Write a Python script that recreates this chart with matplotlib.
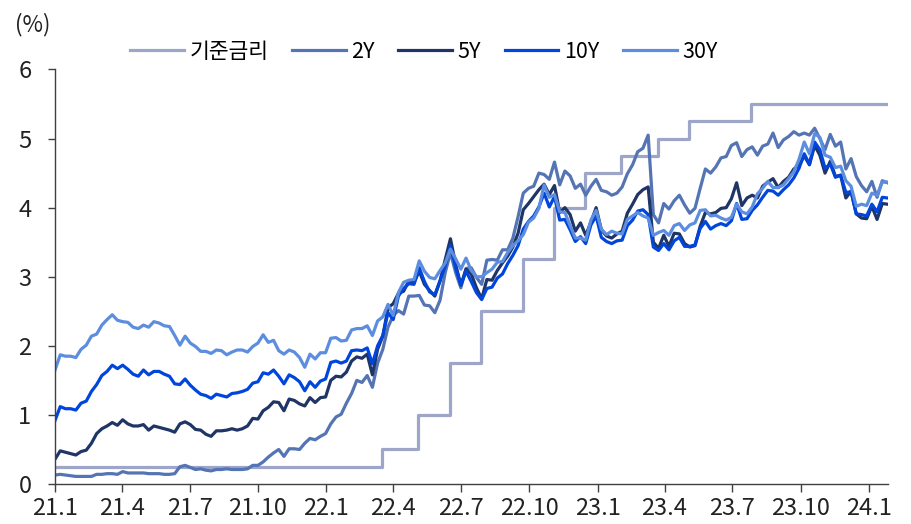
import numpy as np
import pandas as pd
import matplotlib
matplotlib.use('Agg')
import matplotlib.pyplot as plt

plt.rcParams['font.family'] = ['Noto Sans CJK KR', 'DejaVu Sans']

# weekly (Friday) observations, 2021-01-01 ~ 2024-01-26
dates = pd.date_range('2021-01-01', '2024-01-26', freq='W-FRI')

y2 = [
    # 2021
    0.13, 0.14, 0.13, 0.12, 0.11, 0.11, 0.11, 0.11, 0.14, 0.14, 0.15, 0.15, 0.14,
    0.18, 0.16, 0.16, 0.16, 0.16, 0.15, 0.15, 0.15, 0.14, 0.14, 0.15, 0.25, 0.27,
    0.24, 0.21, 0.22, 0.20, 0.19, 0.21, 0.21, 0.22, 0.21, 0.21, 0.21, 0.22, 0.27,
    0.27, 0.32, 0.39, 0.45, 0.50, 0.40, 0.51, 0.51, 0.50, 0.59, 0.66, 0.64, 0.69, 0.73,
    # 2022
    0.87, 0.97, 1.01, 1.17, 1.31, 1.50, 1.47, 1.57, 1.40, 1.75, 1.95, 2.27,
    2.44, 2.51, 2.46, 2.72, 2.72, 2.73, 2.59, 2.58, 2.48, 2.66, 3.06, 3.35, 3.06,
    2.84, 3.12, 3.13, 2.99, 2.89, 3.24, 3.25, 3.24, 3.39, 3.39, 3.56, 3.87, 4.21, 4.28,
    4.31, 4.50, 4.48, 4.41, 4.66, 4.33, 4.53, 4.46, 4.28, 4.34, 4.18, 4.31, 4.41,
    # 2023
    4.25, 4.23, 4.18, 4.21, 4.30, 4.49, 4.62, 4.81, 4.86, 5.05, 3.90, 3.78, 4.06,
    3.98, 4.10, 4.18, 4.04, 3.92, 3.99, 4.28, 4.56, 4.50, 4.59, 4.72, 4.74, 4.90,
    4.94, 4.74, 4.84, 4.88, 4.76, 4.89, 4.92, 5.08, 4.87, 4.98, 5.03, 5.10, 5.05,
    5.08, 5.05, 5.15, 5.00, 4.84, 5.06, 4.89, 4.95, 4.56, 4.71, 4.45, 4.32, 4.23,
    # 2024
    4.38, 4.15, 4.39, 4.36,
]

y5 = [
    0.36, 0.48, 0.46, 0.44, 0.42, 0.47, 0.49, 0.59, 0.73, 0.80, 0.84, 0.89, 0.85,
    0.93, 0.87, 0.84, 0.84, 0.86, 0.78, 0.84, 0.82, 0.80, 0.78, 0.75, 0.87, 0.90,
    0.86, 0.79, 0.78, 0.72, 0.69, 0.77, 0.77, 0.78, 0.80, 0.78, 0.80, 0.84, 0.95,
    0.94, 1.06, 1.11, 1.19, 1.18, 1.06, 1.23, 1.21, 1.16, 1.13, 1.25, 1.18, 1.25, 1.26,
    1.50, 1.56, 1.55, 1.62, 1.78, 1.84, 1.82, 1.88, 1.58, 1.95, 2.14, 2.55,
    2.61, 2.76, 2.79, 2.94, 2.92, 3.08, 2.89, 2.80, 2.72, 2.94, 3.25, 3.55, 3.18,
    2.88, 3.11, 3.04, 2.84, 2.68, 2.96, 2.95, 3.09, 3.20, 3.30, 3.43, 3.63, 3.97, 4.06,
    4.16, 4.26, 4.34, 4.19, 4.32, 3.93, 4.00, 3.90, 3.66, 3.78, 3.60, 3.79, 4.00,
    3.68, 3.59, 3.56, 3.62, 3.66, 3.92, 4.05, 4.19, 4.26, 4.30, 3.50, 3.41, 3.60,
    3.44, 3.63, 3.62, 3.48, 3.43, 3.45, 3.73, 3.93, 3.91, 3.93, 3.99, 4.00, 4.13,
    4.36, 4.03, 4.14, 4.18, 4.14, 4.31, 4.37, 4.42, 4.29, 4.38, 4.44, 4.56, 4.61,
    4.75, 4.62, 4.90, 4.76, 4.50, 4.67, 4.45, 4.47, 4.14, 4.24, 3.91, 3.85, 3.84,
    4.02, 3.83, 4.06, 4.05,
]

y10 = [
    0.92, 1.12, 1.09, 1.09, 1.07, 1.17, 1.20, 1.34, 1.44, 1.57, 1.63, 1.72, 1.67,
    1.72, 1.66, 1.59, 1.56, 1.65, 1.58, 1.63, 1.63, 1.59, 1.56, 1.45, 1.44, 1.52,
    1.43, 1.36, 1.30, 1.28, 1.24, 1.30, 1.28, 1.26, 1.31, 1.32, 1.34, 1.37, 1.46,
    1.48, 1.61, 1.59, 1.65, 1.56, 1.45, 1.58, 1.54, 1.48, 1.35, 1.48, 1.40, 1.49, 1.52,
    1.76, 1.78, 1.75, 1.78, 1.93, 1.94, 1.93, 1.97, 1.74, 2.00, 2.15, 2.48,
    2.38, 2.72, 2.83, 2.90, 2.89, 3.13, 2.93, 2.78, 2.74, 2.94, 3.16, 3.45, 3.13,
    2.88, 3.08, 2.93, 2.77, 2.67, 2.83, 2.85, 2.98, 3.04, 3.19, 3.31, 3.45, 3.69, 3.80,
    3.88, 4.01, 4.21, 4.01, 4.16, 3.82, 3.83, 3.68, 3.51, 3.58, 3.48, 3.75, 3.88,
    3.57, 3.51, 3.48, 3.52, 3.53, 3.74, 3.82, 3.95, 3.97, 3.90, 3.43, 3.38, 3.48,
    3.39, 3.52, 3.57, 3.44, 3.44, 3.46, 3.70, 3.80, 3.69, 3.74, 3.77, 3.74, 3.81,
    4.06, 3.83, 3.84, 3.96, 4.04, 4.15, 4.25, 4.24, 4.18, 4.26, 4.33, 4.43, 4.57,
    4.78, 4.63, 4.95, 4.84, 4.57, 4.63, 4.44, 4.47, 4.22, 4.23, 3.91, 3.90, 3.88,
    4.05, 3.94, 4.15, 4.14,
]

y30 = [
    1.65, 1.87, 1.85, 1.85, 1.83, 1.95, 2.01, 2.14, 2.17, 2.30, 2.38, 2.45, 2.37,
    2.35, 2.34, 2.27, 2.25, 2.30, 2.27, 2.35, 2.33, 2.29, 2.28, 2.15, 2.01, 2.14,
    2.04, 1.99, 1.92, 1.92, 1.89, 1.94, 1.93, 1.87, 1.91, 1.94, 1.94, 1.91, 1.99,
    2.04, 2.16, 2.05, 2.08, 1.93, 1.88, 1.94, 1.91, 1.83, 1.69, 1.88, 1.81, 1.90, 1.90,
    2.11, 2.12, 2.07, 2.08, 2.23, 2.25, 2.25, 2.29, 2.15, 2.36, 2.42, 2.60,
    2.44, 2.77, 2.92, 2.95, 2.96, 3.23, 3.08, 2.99, 2.97, 3.09, 3.20, 3.40, 3.26,
    3.11, 3.27, 3.09, 3.00, 3.00, 3.06, 3.11, 3.21, 3.22, 3.35, 3.45, 3.52, 3.61, 3.79,
    3.85, 3.99, 4.33, 4.15, 4.19, 3.94, 3.93, 3.74, 3.56, 3.56, 3.53, 3.82, 3.96,
    3.69, 3.61, 3.66, 3.63, 3.62, 3.83, 3.88, 3.93, 3.88, 3.85, 3.60, 3.64, 3.67,
    3.60, 3.74, 3.77, 3.67, 3.75, 3.78, 3.96, 3.97, 3.88, 3.89, 3.85, 3.82, 3.86,
    4.05, 3.94, 3.91, 4.01, 4.20, 4.28, 4.38, 4.29, 4.29, 4.33, 4.42, 4.52, 4.70,
    4.95, 4.78, 5.07, 5.02, 4.76, 4.73, 4.58, 4.60, 4.39, 4.31, 4.02, 4.05, 4.03,
    4.21, 4.18, 4.37, 4.37,
]

# 기준금리 (상단) 변경일
ff_dates = pd.to_datetime(['2021-01-01', '2022-03-17', '2022-05-05', '2022-06-16',
                           '2022-07-28', '2022-09-22', '2022-11-03', '2022-12-15',
                           '2023-02-02', '2023-03-23', '2023-05-04', '2023-07-27',
                           '2024-01-26'])
ff_rates = [0.25, 0.5, 1.0, 1.75, 2.5, 3.25, 4.0, 4.5, 4.75, 5.0, 5.25, 5.5, 5.5]

tick_dates = pd.date_range('2021-01-01', '2024-01-01', freq='3MS')
tick_labels = ['21.1', '21.4', '21.7', '21.10', '22.1', '22.4', '22.7', '22.10',
               '23.1', '23.4', '23.7', '23.10', '24.1']

fig = plt.figure(figsize=(9.11, 5.24), dpi=100)
ax = fig.add_axes([0.0604, 0.0763, 0.9146, 0.7911])

lw = 2.3
ax.plot(ff_dates, ff_rates, drawstyle='steps-post', color='#9DA6C8', lw=lw, label='기준금리')
ax.plot(dates, y2, color='#5474B4', lw=lw, label='2Y')
ax.plot(dates, y5, color='#1F3566', lw=lw, label='5Y')
ax.plot(dates, y10, color='#0046DC', lw=lw, label='10Y')
ax.plot(dates, y30, color='#5D8DDF', lw=lw, label='30Y')

ax.set_xlim(pd.Timestamp('2021-01-01'), pd.Timestamp('2024-01-27'))
ax.set_ylim(0, 6)
ax.set_xticks(tick_dates)
ax.set_xticklabels(tick_labels)
ax.set_yticks(range(7))

for s in ['top', 'right']:
    ax.spines[s].set_visible(False)
for s in ['left', 'bottom']:
    ax.spines[s].set_color('#404040')
    ax.spines[s].set_linewidth(1.0)
ax.tick_params(axis='y', length=5, width=1, color='#404040', pad=12, labelsize=17, labelcolor='#222222')
ax.tick_params(axis='x', length=6, width=1, color='#404040', pad=3, labelsize=17, labelcolor='#222222')

fig.text(0.016, 0.954, '(%)', fontsize=16, va='center', ha='left', color='#222222')

fig.legend(loc='center left', bbox_to_anchor=(0.1427, 0.9008), ncol=5, frameon=False,
           fontsize=15.5, handlelength=2.5, handletextpad=0.25, columnspacing=1.1,
           borderpad=0, borderaxespad=0)

fig.savefig('out.png', dpi=100)
